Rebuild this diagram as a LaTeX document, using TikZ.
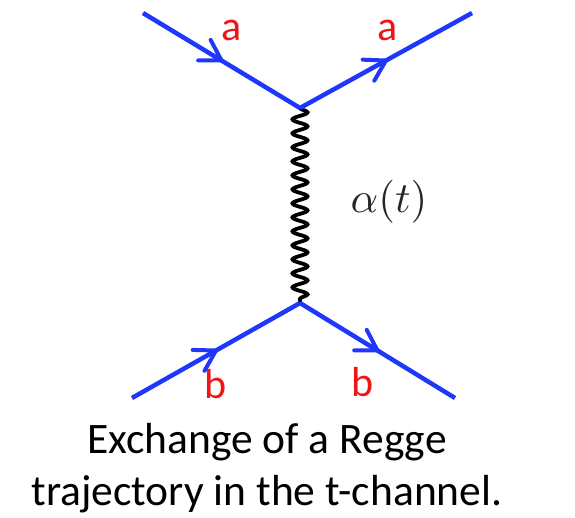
\documentclass[tikz,border=0pt]{standalone}
\usepackage{graphicx}
\usepackage{fontspec}
\setmainfont{Carlito}
\usetikzlibrary{decorations.markings,decorations.pathmorphing,positioning}

\definecolor{lineblue}{RGB}{30,55,250}
\definecolor{lblred}{RGB}{240,20,20}

\begin{document}
\begin{tikzpicture}[x=1pt,y=-1pt,
  fermion/.style={draw=lineblue,line width=4.5pt,postaction={decorate},
    decoration={markings,mark=at position 0.5 with {\draw[lineblue,line width=4pt,line cap=round]
      (-20pt,12pt) -- (0pt,0pt) -- (-20pt,-12pt);}}},
  regge/.style={draw=black,line width=3.8pt,decorate,
    decoration={snake,segment length=14pt,amplitude=7.5pt}},
  lbl/.style={font=\fontsize{42}{46}\selectfont,text=lblred,inner sep=0pt},
  capt/.style={font=\fontsize{43.5}{52}\selectfont,anchor=base,inner sep=0pt}]
  \useasboundingbox (0,0) rectangle (575,517);
  % vertices and external legs
  \coordinate (vtop) at (300,108);
  \coordinate (vbot) at (300,303);
  \coordinate (ain) at (143,13);
  \coordinate (aout) at (472,13);
  \coordinate (bin) at (132,398);
  \coordinate (bout) at (455,398);
  % exchanged trajectory
  \draw[regge] (vtop) -- (vbot);
  \draw[fermion] (ain) -- (vtop);
  \draw[fermion] (vtop) -- (aout);
  \draw[fermion] (bin) -- (vbot);
  \draw[fermion] (vbot) -- (bout);
  \node[lbl] (la1) at (232,30) {a};
  \node[lbl] (la2) at (388,30) {a};
  \node[lbl] (lb1) at (216,384) {b};
  \node[lbl] (lb2) at (363,382) {b};
  \node[text=black!85] (alpha) at (389,202) {\scalebox{4.3}{$\alpha(t)$}};
  \node[capt] (cap1) at (267,453) {Exchange of a Regge};
  \node[capt] (cap2) at (267,505) {trajectory in the t-channel.};
\end{tikzpicture}
\end{document}
